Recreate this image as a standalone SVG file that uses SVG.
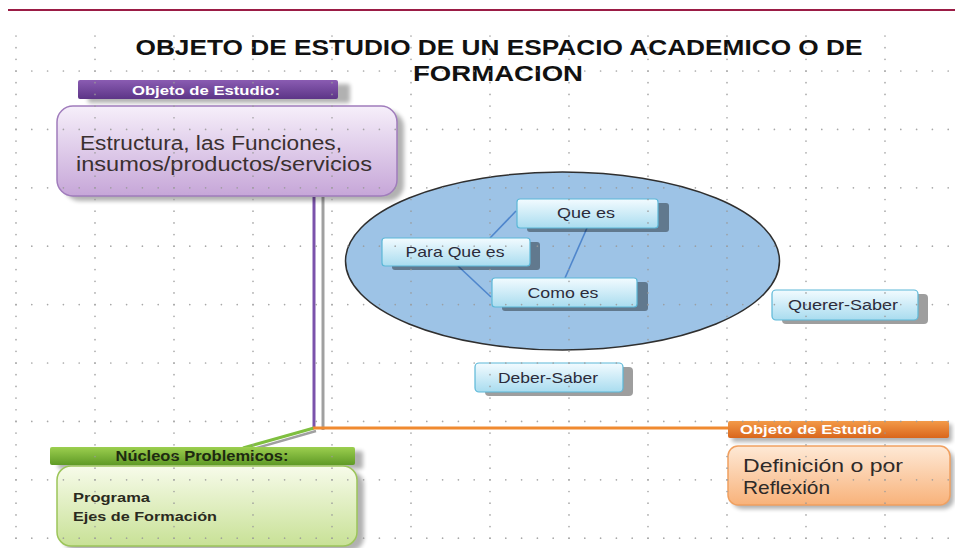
<svg xmlns="http://www.w3.org/2000/svg" width="955" height="548" viewBox="0 0 955 548">
<defs>
<style>
.gh{stroke:#9a9a9a;stroke-width:1.7;stroke-linecap:round;stroke-dasharray:0 15.8;fill:none}
.gv{stroke:#9a9a9a;stroke-width:1.7;stroke-linecap:round;stroke-dasharray:0 11.68;fill:none}
.t{font-family:"Liberation Sans",Arial,sans-serif;}
.b{font-weight:bold}
.sm{font-size:15px;fill:#2b2b3a;text-anchor:middle}
.box{fill:url(#gBlue);stroke:#5cb8d8;stroke-width:1.2}
.sh{fill:#000;opacity:0.38}
.shg{fill:#000;opacity:0.3;filter:url(#blur)}
.lk{stroke:#4f86cc;stroke-width:1.6;fill:none}
</style>
<linearGradient id="gBlue" x1="0" y1="0" x2="0" y2="1"><stop offset="0" stop-color="#f2fbff"/><stop offset="1" stop-color="#a9dcef"/></linearGradient>
<linearGradient id="gPurH" x1="0" y1="0" x2="0" y2="1"><stop offset="0" stop-color="#8a5cb2"/><stop offset="1" stop-color="#5d3587"/></linearGradient>
<linearGradient id="gPur" x1="0" y1="0" x2="0" y2="1"><stop offset="0" stop-color="#f6effa"/><stop offset="1" stop-color="#c6a6d8"/></linearGradient>
<linearGradient id="gGrnH" x1="0" y1="0" x2="0" y2="1"><stop offset="0" stop-color="#9ccf4f"/><stop offset="1" stop-color="#5f9a26"/></linearGradient>
<linearGradient id="gGrn" x1="0" y1="0" x2="0" y2="1"><stop offset="0" stop-color="#f7fbea"/><stop offset="1" stop-color="#c8e196"/></linearGradient>
<linearGradient id="gOrH" x1="0" y1="0" x2="0" y2="1"><stop offset="0" stop-color="#f39a48"/><stop offset="1" stop-color="#d9661c"/></linearGradient>
<linearGradient id="gOr" x1="0" y1="0" x2="0" y2="1"><stop offset="0" stop-color="#fee9d6"/><stop offset="1" stop-color="#f8b27a"/></linearGradient>
<filter id="blur" x="-10%" y="-20%" width="120%" height="140%"><feGaussianBlur stdDeviation="2"/></filter>
</defs>
<rect width="955" height="548" fill="#ffffff"/>
<line x1="8" y1="10" x2="955" y2="10" stroke="#9b1c45" stroke-width="2"/>
<g id="title" class="t b" fill="#111" font-size="22">
<text x="499" y="55" text-anchor="middle" textLength="727" lengthAdjust="spacingAndGlyphs">OBJETO DE ESTUDIO DE UN ESPACIO ACADEMICO O DE</text>
<text x="498" y="81" text-anchor="middle" textLength="170" lengthAdjust="spacingAndGlyphs">FORMACION</text>
</g>
<g id="ellipse">
<ellipse cx="562.5" cy="261" rx="217" ry="89" fill="#9dc3e6" stroke="#2f2f2f" stroke-width="1.5"/>
</g>
<g id="connectors">
<line x1="323" y1="197" x2="323" y2="430" stroke="#a0a0a0" stroke-width="3"/>
<line x1="314" y1="197" x2="314" y2="428" stroke="#7b52ab" stroke-width="3"/>
<line x1="316" y1="431" x2="246" y2="451" stroke="#a0a0a0" stroke-width="2.5"/>
<line x1="314" y1="428" x2="243" y2="448" stroke="#7fbf3f" stroke-width="3"/>
<line x1="313" y1="428" x2="730" y2="428" stroke="#f08a30" stroke-width="3"/>
<line class="lk" x1="490" y1="238" x2="516" y2="211"/>
<line class="lk" x1="587" y1="228" x2="565" y2="278"/>
<line class="lk" x1="458" y1="266" x2="491" y2="297"/>
</g>
<g id="objeto-header">
<rect class="shg" x="88" y="84" width="262" height="19" rx="2"/>
<rect x="78" y="80" width="260" height="19" rx="2" fill="url(#gPurH)"/>
<text class="t b" x="206" y="95" font-size="13" fill="#fff" text-anchor="middle" textLength="148" lengthAdjust="spacingAndGlyphs">Objeto de Estudio:</text>
</g>
<g id="estructura">
<rect class="shg" x="64" y="111" width="340" height="90" rx="16"/>
<rect x="57" y="106" width="340" height="90" rx="16" fill="url(#gPur)" stroke="#a07cbc" stroke-width="1.5"/>
<text class="t" font-size="20" fill="#3a3030"><tspan x="80" y="150" textLength="262" lengthAdjust="spacingAndGlyphs">Estructura, las Funciones,</tspan><tspan x="76" y="171" textLength="296" lengthAdjust="spacingAndGlyphs">insumos/productos/servicios</tspan></text>
</g>
<g id="que-es">
<rect class="sh" x="527" y="203" width="142" height="29" rx="3"/>
<rect class="box" x="517" y="199" width="141" height="29" rx="3"/>
<text class="t sm" x="586" y="218" textLength="58" lengthAdjust="spacingAndGlyphs">Que es</text>
</g>
<g id="para-que-es">
<rect class="sh" x="392" y="242" width="148" height="28" rx="3"/>
<rect class="box" x="382" y="238" width="148" height="28" rx="3"/>
<text class="t sm" x="455" y="257" textLength="99" lengthAdjust="spacingAndGlyphs">Para Que es</text>
</g>
<g id="como-es">
<rect class="sh" x="502" y="282" width="146" height="29" rx="3"/>
<rect class="box" x="492" y="278" width="145" height="29" rx="3"/>
<text class="t sm" x="563" y="298" textLength="71" lengthAdjust="spacingAndGlyphs">Como es</text>
</g>
<g id="querer-saber">
<rect class="sh" x="782" y="294" width="146" height="30" rx="4"/>
<rect class="box" x="772" y="290" width="146" height="30" rx="4"/>
<text class="t sm" x="843" y="310" textLength="110" lengthAdjust="spacingAndGlyphs">Querer-Saber</text>
</g>
<g id="deber-saber">
<rect class="sh" x="485" y="367" width="148" height="29" rx="4"/>
<rect class="box" x="475" y="363" width="148" height="29" rx="4"/>
<text class="t sm" x="548" y="383" textLength="100" lengthAdjust="spacingAndGlyphs">Deber-Saber</text>
</g>
<g id="nucleos-header">
<rect class="shg" x="58" y="451" width="305" height="18" rx="2"/>
<rect x="50" y="447" width="305" height="18" rx="2" fill="url(#gGrnH)"/>
<text class="t b" x="202" y="461" font-size="14" fill="#1e2a10" text-anchor="middle" textLength="173" lengthAdjust="spacingAndGlyphs">Núcleos Problemicos:</text>
</g>
<g id="nucleos">
<rect class="shg" x="63" y="471" width="301" height="80" rx="14"/>
<rect x="57" y="466" width="300" height="80" rx="14" fill="url(#gGrn)" stroke="#9cc55a" stroke-width="1.5"/>
<text class="t b" font-size="13" fill="#2a2a20"><tspan x="73" y="502" textLength="77" lengthAdjust="spacingAndGlyphs">Programa</tspan><tspan x="73" y="521" textLength="144" lengthAdjust="spacingAndGlyphs">Ejes de Formación</tspan></text>
</g>
<g id="objeto-orange-header">
<rect class="shg" x="732" y="424" width="220" height="18" rx="2"/>
<rect x="728" y="421" width="221" height="17" rx="2" fill="url(#gOrH)"/>
<text class="t b" x="740" y="434" font-size="13" fill="#fff" textLength="142" lengthAdjust="spacingAndGlyphs">Objeto de Estudio</text>
</g>
<g id="definicion">
<rect class="shg" x="732" y="450" width="222" height="59" rx="10"/>
<rect x="728" y="446" width="222" height="59" rx="10" fill="url(#gOr)" stroke="#f0a060" stroke-width="1.5"/>
<text class="t" font-size="19" fill="#2e2a28"><tspan x="743" y="472" textLength="160" lengthAdjust="spacingAndGlyphs">Definición o por</tspan><tspan x="743" y="494" textLength="87" lengthAdjust="spacingAndGlyphs">Reflexión</tspan></text>
</g>
<g id="grid" opacity="0.85">
<path class="gh" d="M16 71H955M16 129.4H955M16 187.8H955M16 246.2H955M16 304.6H955M16 363H955M16 421.4H955M16 479.8H955M16 538.2H955"/>
<path class="gv" d="M16 36V546M95 36V546M174 36V546M253 36V546M332 36V546M411 36V546M490 36V546M569 36V546M648 36V546M727 36V546M806 36V546M885 36V546"/>
</g>
</svg>
